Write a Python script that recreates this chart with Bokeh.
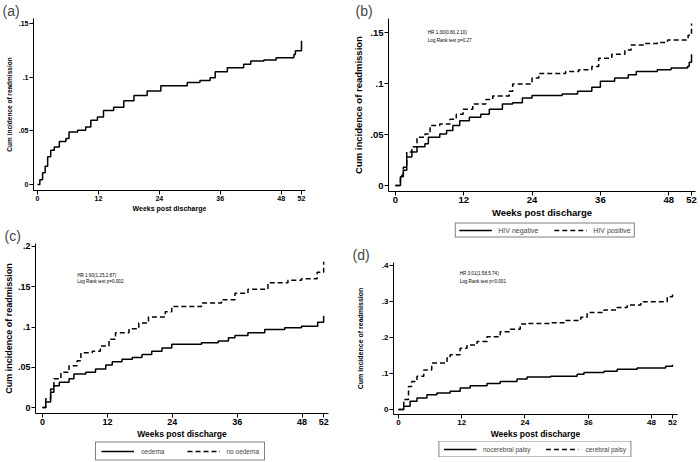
from bokeh.plotting import figure
from bokeh.layouts import row, column
from bokeh.models import Legend, LegendItem, FixedTicker, Range1d, Label
from bokeh.embed import file_html
from bokeh.resources import INLINE

FONT = "Liberation Sans"

x_ticks = [0, 12, 24, 36, 48, 52]
x_title = "Weeks post discharge"
y_title = "Cum incidence of readmission"

# (a) overall
a_weeks = [0, 0.46, 1.0, 1.5, 2.0, 2.6, 3.3, 4.3, 5.6, 6.2, 7.9, 9.5, 10.5, 11.8, 13.0, 15.0, 17.0,
           19.0, 21.6, 24.3, 29.5, 32.0, 34.0, 35.0, 37.4, 40.6, 42.0, 44.6, 47.0, 50.5, 50.8, 52.0, 52.0]
a_cum = [0, 0.0046, 0.011, 0.017, 0.026, 0.032, 0.035, 0.040, 0.043, 0.049, 0.0505, 0.0535, 0.060, 0.063,
         0.069, 0.072, 0.078, 0.083, 0.087, 0.092, 0.095, 0.097, 0.0995, 0.105, 0.1087, 0.112, 0.115,
         0.116, 0.118, 0.121, 0.1245, 0.1245, 0.134]
a_yticks = [0, 0.05, 0.1, 0.15]
a_ylabels = ["0", ".05", ".1", ".15"]

# (b) HIV
b_neg_weeks = [0, 0.9, 1.4, 2.0, 2.9, 3.8, 5.2, 5.8, 7.8, 9.0, 10.1, 11.3, 13.0, 15.0, 16.5, 18.8, 20.6,
               22.3, 24.0, 29.3, 32.0, 34.5, 36.0, 38.5, 40.9, 42.3, 46.0, 48.4, 51.3, 51.6, 52.0, 52.0]
b_neg_cum = [0, 0.0087, 0.015, 0.028, 0.033, 0.038, 0.041, 0.0475, 0.0507, 0.054, 0.059, 0.0636, 0.067,
             0.070, 0.075, 0.080, 0.0814, 0.086, 0.0885, 0.090, 0.0927, 0.0966, 0.1024, 0.1056, 0.1088,
             0.112, 0.1137, 0.1153, 0.117, 0.121, 0.121, 0.129]
b_pos_weeks = [0, 0.9, 1.4, 2.0, 2.9, 3.8, 5.2, 6.1, 7.8, 9.6, 10.7, 11.9, 13.6, 15.9, 17.1, 20.0, 20.6,
               24.0, 25.2, 29.9, 32.2, 34.5, 35.7, 38.0, 40.3, 41.4, 43.8, 46.0, 47.8, 51.4, 52.0, 52.0]
b_pos_cum = [0, 0.010, 0.018, 0.033, 0.038, 0.0475, 0.0507, 0.059, 0.0604, 0.065, 0.070, 0.075, 0.080,
             0.0846, 0.088, 0.0927, 0.0998, 0.1056, 0.110, 0.112, 0.1137, 0.117, 0.125, 0.129, 0.133,
             0.138, 0.1395, 0.1405, 0.143, 0.1476, 0.149, 0.159]
b_yticks = [0, 0.05, 0.1, 0.15]
b_ylabels = ["0", ".05", ".1", ".15"]
b_series = ["HIV negative", "HIV positive"]
b_notes = ["HR 1.30(0.80,2.10)", "Log Rank test p=0.27"]

# (c) oedema
c_oed_weeks = [0, 0.6, 1.5, 2.1, 3.1, 4.9, 5.8, 8.0, 9.8, 11.7, 12.9, 14.7, 16.6, 18.4, 20.2, 22.1, 23.9,
               29.4, 32.5, 34.4, 35.6, 38.0, 41.1, 44.8, 47.9, 50.9, 52.0, 52.0]
c_oed_cum = [0, 0.007, 0.019, 0.027, 0.0315, 0.0356, 0.0417, 0.0437, 0.0478, 0.0527, 0.0568, 0.060, 0.062,
             0.066, 0.070, 0.074, 0.0785, 0.0805, 0.0826, 0.0867, 0.0896, 0.093, 0.097, 0.099, 0.101,
             0.106, 0.106, 0.114]
c_no_weeks = [0, 0.6, 1.5, 2.1, 3.4, 4.9, 6.4, 7.1, 9.2, 10.7, 12.3, 13.5, 16.0, 17.8, 19.6, 22.7, 23.9,
              29.4, 33.1, 35.6, 38.0, 41.7, 45.4, 47.9, 50.8, 52.0, 52.0]
c_no_cum = [0, 0.011, 0.023, 0.0356, 0.0437, 0.052, 0.058, 0.068, 0.070, 0.0765, 0.0847, 0.0928, 0.0978,
            0.105, 0.1125, 0.119, 0.1256, 0.1297, 0.134, 0.142, 0.147, 0.155, 0.158, 0.160, 0.168,
            0.170, 0.181]
c_yticks = [0, 0.05, 0.1, 0.15, 0.2]
c_ylabels = ["0", ".05", ".1", ".15", ".2"]
c_series = ["oedema", "no oedema"]
c_notes = ["HR 1.90(1.25,2.87)", "Log Rank test p=0.002"]

# (d) cerebral palsy
d_no_weeks = [0, 1.0, 2.2, 3.5, 5.4, 7.3, 9.8, 11.7, 13.6, 16.8, 19.3, 22.5, 24.4, 28.9, 33.9, 35.2,
              39.0, 41.5, 45.3, 50.7, 52.0]
d_no_cum = [0, 0.009, 0.023, 0.032, 0.041, 0.046, 0.0506, 0.060, 0.066, 0.072, 0.078, 0.085, 0.090,
            0.092, 0.098, 0.103, 0.106, 0.112, 0.115, 0.120, 0.124]
d_cp_weeks = [0, 1.0, 1.9, 2.5, 3.5, 4.8, 6.3, 9.2, 9.8, 11.7, 13.0, 14.9, 16.8, 19.3, 21.2, 23.1, 24.4,
              28.9, 31.4, 34.6, 35.8, 39.0, 41.5, 43.4, 46.0, 51.0, 52.0, 52.0]
d_cp_cum = [0, 0.028, 0.064, 0.078, 0.092, 0.110, 0.129, 0.143, 0.152, 0.170, 0.179, 0.189, 0.202, 0.216,
            0.223, 0.237, 0.239, 0.241, 0.247, 0.256, 0.269, 0.276, 0.283, 0.290, 0.299, 0.313, 0.313, 0.327]
d_yticks = [0, 0.1, 0.2, 0.3, 0.4]
d_ylabels = ["0", ".1", ".2", ".3", ".4"]
d_series = ["nocerebral palsy", "cerebral palsy"]
d_notes = ["HR 3.01(1.58,5.74)", "Log Rank test p<0.001"]

SOLID = dict(line_color="black", line_width=1.5)
DASHED = dict(line_color="black", line_width=1.5, line_dash="5 3")


def no_align(p):
    if "frame_align" in p.properties():
        p.frame_align = False


def panel(tag, w, h, xr, yr, yticks, ylabels, bl, br, bt, bb, tick_fs, ylab_fs, xlab_fs, ylab_standoff=1):
    p = figure(width=w, height=h, x_range=Range1d(*xr), y_range=Range1d(*yr),
               output_backend="svg", toolbar_location=None, title=tag,
               min_border_left=bl, min_border_right=br, min_border_top=bt, min_border_bottom=bb)
    no_align(p)
    p.outline_line_color = None
    p.xgrid.visible = False
    p.ygrid.visible = False
    p.background_fill_color = "white"
    p.border_fill_color = "white"
    p.title.text_font = FONT
    p.title.text_font_size = "14px"
    p.title.text_font_style = "normal"
    p.title.align = "left"
    p.title.offset = -bl + 2
    p.title.standoff = 0
    for ax in (p.xaxis[0], p.yaxis[0]):
        ax.axis_line_color = "black"
        ax.axis_line_width = 1
        ax.major_tick_line_color = "black"
        ax.major_tick_out = 4
        ax.major_tick_in = 0
        ax.minor_tick_out = 0
        ax.minor_tick_in = 0
        ax.major_label_text_font = FONT
        ax.major_label_text_font_style = "bold"
        ax.major_label_text_font_size = tick_fs
        ax.major_label_text_color = "black"
        ax.major_label_standoff = 1
        ax.axis_label_text_font = FONT
        ax.axis_label_text_font_style = "bold"
        ax.axis_label_text_color = "black"
        ax.axis_label_standoff = 1
    p.yaxis.axis_label_standoff = ylab_standoff
    p.xaxis.ticker = FixedTicker(ticks=x_ticks)
    p.yaxis.ticker = FixedTicker(ticks=yticks)
    p.yaxis.major_label_overrides = {t: s for t, s in zip(yticks, ylabels)}
    p.yaxis.major_label_orientation = "horizontal"
    p.xaxis.axis_label = x_title
    p.yaxis.axis_label = y_title
    p.xaxis.axis_label_text_font_size = xlab_fs
    p.yaxis.axis_label_text_font_size = ylab_fs
    return p


def legend_fig(w, h, ml, names, series, fs, spacing, pad):
    # series drawn outside the visible range: only the legend swatches show
    f = figure(width=w, height=h, x_range=Range1d(-20, -10), y_range=Range1d(0, 1),
               output_backend="svg", toolbar_location=None,
               x_axis_location=None, y_axis_location=None,
               min_border_left=ml, min_border_right=0, min_border_top=0, min_border_bottom=0)
    no_align(f)
    f.outline_line_color = None
    f.grid.visible = False
    r1 = f.line(series[0][0], series[0][1], **SOLID)
    r2 = f.line(series[1][0], series[1][1], **DASHED)
    leg = Legend(items=[LegendItem(label=names[0], renderers=[r1]),
                        LegendItem(label=names[1], renderers=[r2])],
                 orientation="horizontal", location="center",
                 border_line_color="black", border_line_width=1,
                 background_fill_color="white", background_fill_alpha=1,
                 label_text_font=FONT, label_text_font_size=fs,
                 glyph_width=33, glyph_height=7, label_height=7, label_standoff=7,
                 spacing=spacing, padding=pad, margin=0)
    f.add_layout(leg, "center")
    return f


def add_notes(p, x, y1, y2, notes):
    for yy, t in zip((y1, y2), notes):
        p.add_layout(Label(x=x, y=yy, text=t, text_font=FONT, text_font_size="4.6px",
                           text_baseline="middle", text_color="black"))


# (a)
pa = panel("(a)", 350, 214, (-0.79, 52.79), (-0.0055, 0.1546), a_yticks, a_ylabels,
           33, 45, 17, 23, "7px", "6.5px", "7px", 3)
pa.step(a_weeks, a_cum, mode="after", **SOLID)

# (b)
pb = panel("(b)", 349, 220, (-1.2, 52.7), (-0.0058, 0.164), b_yticks, b_ylabels,
           35, 4, 17, 28, "9.5px", "9.5px", "9.5px", 3)
pb.step(b_neg_weeks, b_neg_cum, mode="after", **SOLID)
pb.step(b_pos_weeks, b_pos_cum, mode="after", **DASHED)
add_notes(pb, 5.7, 0.150, 0.142, b_notes)
lb = legend_fig(349, 20, 40, b_series, [(b_neg_weeks, b_neg_cum), (b_pos_weeks, b_pos_cum)], "7px", 15, 3)

# (c)
pc = panel("(c)", 350, 227, (-1.3, 52.9), (-0.0074, 0.2037), c_yticks, c_ylabels,
           33, 22, 29, 26, "9px", "9px", "8.5px")
pc.step(c_oed_weeks, c_oed_cum, mode="after", **SOLID)
pc.step(c_no_weeks, c_no_cum, mode="after", **DASHED)
add_notes(pc, 6.4, 0.164, 0.156, c_notes)
lc = legend_fig(350, 20, 10, c_series, [(c_oed_weeks, c_oed_cum), (c_no_weeks, c_no_cum)], "6.5px", 22, 5)

# (d)
pd_ = panel("(d)", 349, 201, (-0.95, 52.95), (-0.0138, 0.408), d_yticks, d_ylabels,
            43, 22, 22, 26, "8px", "7px", "8.5px", 15)
pd_.step(d_no_weeks, d_no_cum, mode="after", **SOLID)
pd_.step(d_cp_weeks, d_cp_cum, mode="after", **DASHED)
add_notes(pd_, 11.6, 0.378, 0.356, d_notes)
ld = legend_fig(349, 16, 20, d_series, [(d_no_weeks, d_no_cum), (d_cp_weeks, d_cp_cum)], "6.5px", 15, 4)

layout = row(column(pa, pc, lc), column(pb, lb, pd_, ld))

open("out.html", "w").write(file_html(layout, INLINE))
